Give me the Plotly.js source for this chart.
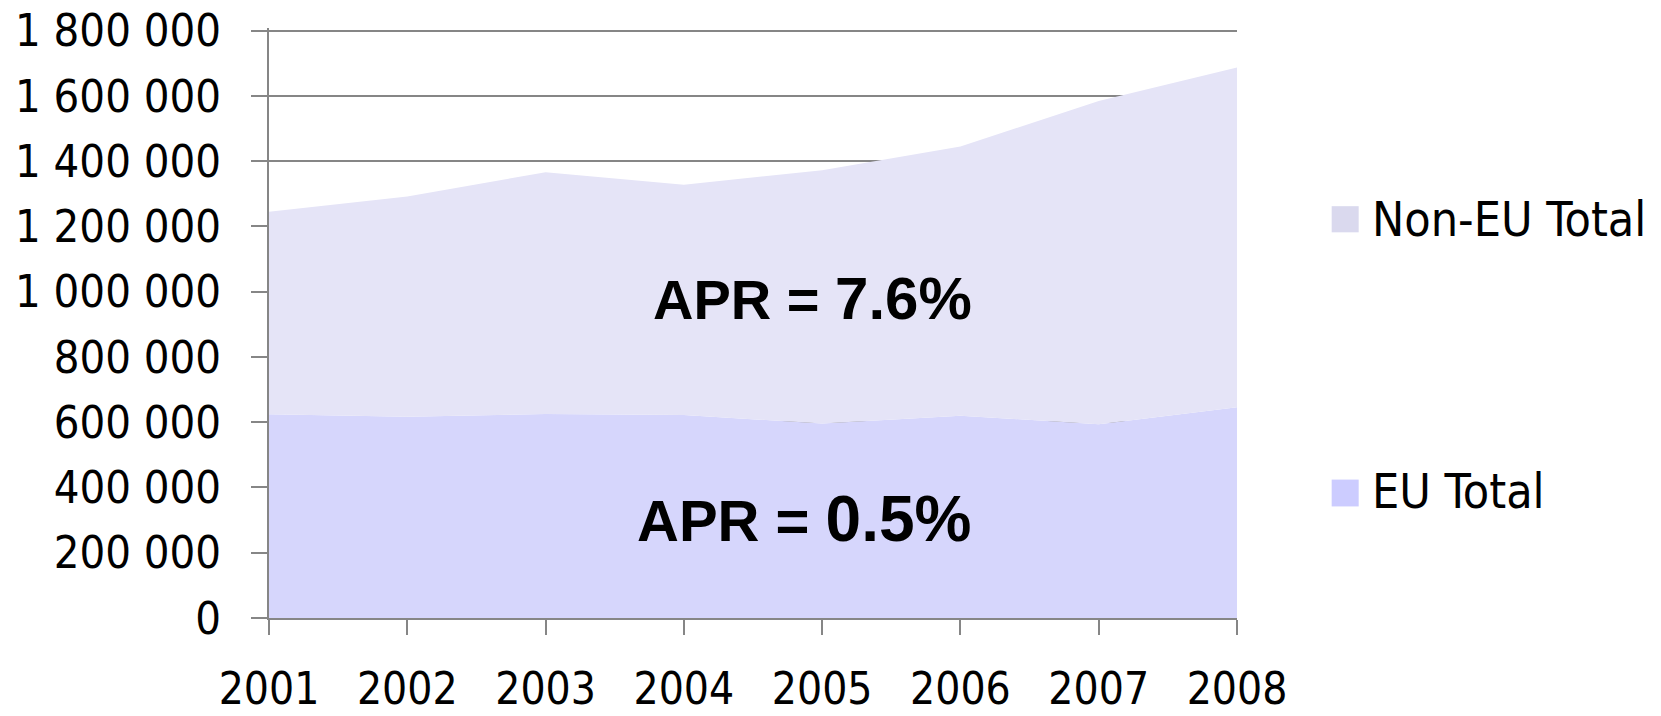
<!DOCTYPE html>
<html>
<head>
<meta charset="utf-8">
<script src="https://cdn.plot.ly/plotly-3.0.1.min.js"></script>
<style>
html,body{margin:0;padding:0;background:#fff;}
#chart{width:1661px;height:716px;}
</style>
</head>
<body>
<div id="chart"></div>
<script>
// ---- data ----
const years = [2001, 2002, 2003, 2004, 2005, 2006, 2007, 2008];
const euTotal = [624000, 617000, 625000, 622000, 596000, 620000, 594000, 646000];
const nonEuTotal = [621000, 675000, 741000, 706000, 776000, 825000, 990000, 1041000];
const seriesNames = ["EU Total", "Non-EU Total"];
const aprLabels = ["APR = ", "0.5%", "APR = ", "7.6%"];
const yTickVals = [0, 200000, 400000, 600000, 800000, 1000000, 1200000, 1400000, 1600000, 1800000];
const yTickText = ["0", "200 000", "400 000", "600 000", "800 000", "1 000 000", "1 200 000", "1 400 000", "1 600 000", "1 800 000"];
const xTickText = years.map(String);

// ---- styles ----
const euColor = "rgb(214,214,252)";
const nonEuColor = "rgb(229,228,247)";
const euLegendColor = "#CCCCFF";
const nonEuLegendColor = "#DAD9EE";
const axisGray = "#868686";
const fontFamily = "DejaVu Sans Condensed, Tahoma, DejaVu Sans, sans-serif";
const xTickFont = {family: fontFamily, size: 44, color: "#000"};
const yTickFont = {family: fontFamily, size: 45, color: "#000"};
const legendFont = {family: fontFamily, size: 48, color: "#000"};
const aprFamily = "Liberation Sans, Arial, sans-serif";

const traces = [
  {
    x: years, y: euTotal, name: seriesNames[0], type: "scatter", mode: "none",
    stackgroup: "one", fillcolor: euColor, showlegend: false, hoverinfo: "x+y+name"
  },
  {
    x: years, y: nonEuTotal, name: seriesNames[1], type: "scatter", mode: "none",
    stackgroup: "one", fillcolor: nonEuColor, showlegend: false, hoverinfo: "x+y+name"
  }
];

const layout = {
  width: 1661, height: 716,
  margin: {l: 269, r: 424, t: 28, b: 98, pad: 0},
  paper_bgcolor: "#fff", plot_bgcolor: "#fff",
  showlegend: false,
  xaxis: {
    type: "linear", range: [years[0], years[years.length - 1]],
    tickvals: years, ticktext: xTickText,
    showgrid: false, zeroline: false,
    showline: true, linecolor: axisGray, linewidth: 2,
    ticks: "outside", ticklen: 15, tickwidth: 2, tickcolor: axisGray,
    tickfont: xTickFont, ticklabelstandoff: 16, fixedrange: true
  },
  yaxis: {
    range: [0, 1808000],
    tickvals: yTickVals, ticktext: yTickText,
    showgrid: true, gridcolor: axisGray, gridwidth: 2,
    zeroline: false,
    showline: true, linecolor: axisGray, linewidth: 2,
    ticks: "outside", ticklen: 16, tickwidth: 2, tickcolor: axisGray,
    tickfont: yTickFont, ticklabelstandoff: 21, fixedrange: true
  },
  annotations: [
    {
      xref: "x", yref: "y", x: 2004.93, y: 980000, xanchor: "center", yanchor: "middle",
      text: "<b>" + aprLabels[2] + "<span style='font-size:60px'>" + aprLabels[3] + "</span></b>",
      showarrow: false, font: {family: aprFamily, size: 56, color: "#000"}
    },
    {
      xref: "x", yref: "y", x: 2004.87, y: 302000, xanchor: "center", yanchor: "middle",
      text: "<b>" + aprLabels[0] + "<span style='font-size:64px'>" + aprLabels[1] + "</span></b>",
      showarrow: false, font: {family: aprFamily, size: 58, color: "#000"}
    },
    {
      xref: "paper", yref: "paper", x: 1.1375, y: 0.677, xanchor: "left", yanchor: "middle",
      text: seriesNames[1], showarrow: false, font: legendFont
    },
    {
      xref: "paper", yref: "paper", x: 1.1375, y: 0.2147, xanchor: "left", yanchor: "middle",
      text: seriesNames[0], showarrow: false, font: legendFont
    }
  ],
  shapes: [
    {type: "rect", xref: "paper", yref: "paper", x0: 1.0978, x1: 1.1257, y0: 0.6537, y1: 0.698,
     fillcolor: nonEuLegendColor, line: {width: 0}},
    {type: "rect", xref: "paper", yref: "paper", x0: 1.0978, x1: 1.1257, y0: 0.1891, y1: 0.2346,
     fillcolor: euLegendColor, line: {width: 0}}
  ]
};

Plotly.newPlot("chart", traces, layout, {displayModeBar: false, staticPlot: true});
</script>
</body>
</html>
